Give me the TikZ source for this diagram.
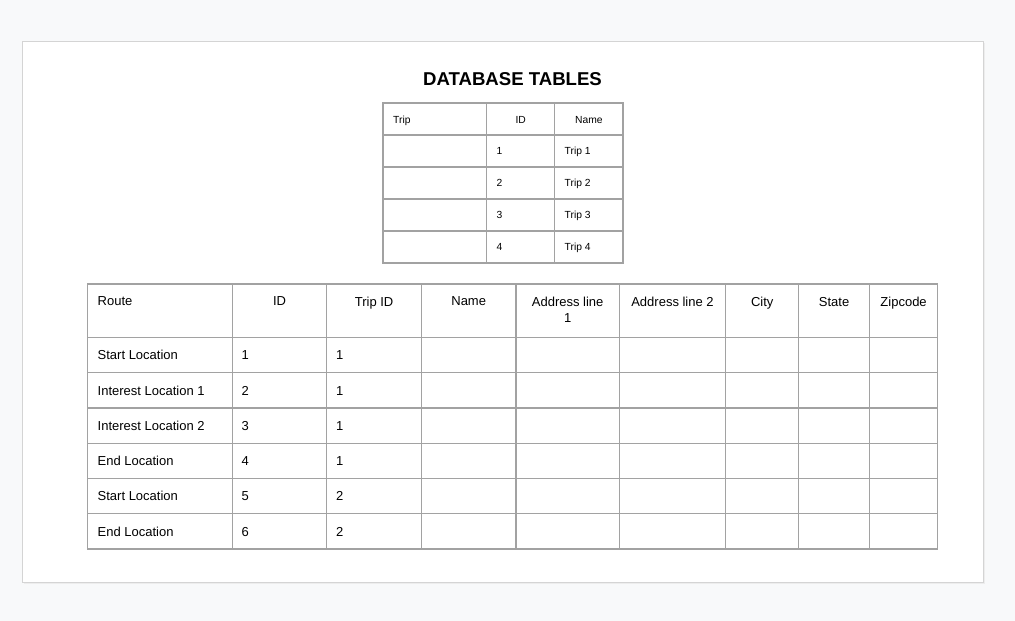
\documentclass[tikz,border=0pt]{standalone}
\usepackage{fontspec}
\setmainfont{Liberation Sans}
\usepackage{xcolor}
\definecolor{pagebg}{HTML}{F8F9FA}
\definecolor{gridline}{HTML}{A2A2A2}
\definecolor{pageline}{HTML}{D4D4D4}

\begin{document}
\begin{tikzpicture}[x = 1pt, y = -1pt,
	title/.style	= {inner sep = 0pt, anchor = base, font = \bfseries\fontsize{18.6}{22}\selectfont},
	small/.style	= {inner sep = 0pt, anchor = base west, font = \fontsize{10.3}{12}\selectfont},
	smallhead/.style	= {small, anchor = base},
	cell/.style	= {inner sep = 0pt, anchor = base west, font = \fontsize{13}{16}\selectfont},
	head/.style	= {cell, anchor = north, align = center},
	grid/.style	= {draw = gridline, line width = 1.1pt}]
\useasboundingbox (0,0) rectangle (1015,621);

% page
\fill[pagebg]	(0,0) rectangle (1015,621);
\fill[black!7]	(23.5,42.5) rectangle (985,584);
\draw[pageline, fill = white]	(22.5,41.5) rectangle (983,582);

\node[title]	(ttl)	at (512.5,85)	{DATABASE TABLES};

% trip table
\draw[grid]	(383,103) rectangle (623,263)
			(486.7,103) -- (486.7,263)
			(554.8,103) -- (554.8,263)
			(383,135) -- (623,135)
			(383,167) -- (623,167)
			(383,199) -- (623,199)
			(383,231) -- (623,231);

\node[small]		(trip)	at (393,123)		{Trip};
\node[smallhead]	(tid)		at (520.7,123)	{ID};
\node[smallhead]	(tname)	at (588.9,123)	{Name};
\node[small]		(tid1)	at (496.5,154.6)	{1};
\node[small]		(tid2)	at (496.5,186.6)	{2};
\node[small]		(tid3)	at (496.5,218.6)	{3};
\node[small]		(tid4)	at (496.5,250.6)	{4};
\node[small]		(tname1)	at (564.5,154.6)	{Trip 1};
\node[small]		(tname2)	at (564.5,186.6)	{Trip 2};
\node[small]		(tname3)	at (564.5,218.6)	{Trip 3};
\node[small]		(tname4)	at (564.5,250.6)	{Trip 4};

% route table
\draw[grid]	(87.5,284) rectangle (937.8,549)
			(232.3,284) -- (232.3,549)
			(326.8,284) -- (326.8,549)
			(421.4,284) -- (421.4,549)
			(516,284) -- (516,549)
			(619.4,284) -- (619.4,549)
			(725.6,284) -- (725.6,549)
			(798.8,284) -- (798.8,549)
			(869.4,284) -- (869.4,549)
			(87.5,337.5) -- (937.8,337.5)
			(87.5,372.75) -- (937.8,372.75)
			(87.5,408) -- (937.8,408)
			(87.5,443.25) -- (937.8,443.25)
			(87.5,478.5) -- (937.8,478.5)
			(87.5,513.75) -- (937.8,513.75);

\node[cell]	(route)	at (97.5,305.7)	{Route};
\node[head]	(rid)		at (279.5,296.8)	{ID};
\node[head]	(rtrip)	at (374.1,296.8)	{Trip ID};
\node[head]	(rname)	at (468.7,296.8)	{Name};
\node[head]	(raddr1)	at (567.7,296.8)	{Address line\\1};
\node[head]	(raddr2)	at (672.5,296.8)	{Address line 2};
\node[head]	(rcity)	at (762.2,296.8)	{City};
\node[head]	(rstate)	at (834.1,296.8)	{State};
\node[head]	(rzip)	at (903.6,296.8)	{Zipcode};

\node[cell]	(r1)		at (97.5,359.8)	{Start Location};
\node[cell]	(r2)		at (97.5,395)	{Interest Location 1};
\node[cell]	(r3)		at (97.5,430.3)	{Interest Location 2};
\node[cell]	(r4)		at (97.5,465.5)	{End Location};
\node[cell]	(r5)		at (97.5,500.8)	{Start Location};
\node[cell]	(r6)		at (97.5,536)	{End Location};
\node[cell]	(r1id)	at (241.5,359.8)	{1};
\node[cell]	(r2id)	at (241.5,395)	{2};
\node[cell]	(r3id)	at (241.5,430.3)	{3};
\node[cell]	(r4id)	at (241.5,465.5)	{4};
\node[cell]	(r5id)	at (241.5,500.8)	{5};
\node[cell]	(r6id)	at (241.5,536)	{6};
\node[cell]	(r1trip)	at (336,359.8)	{1};
\node[cell]	(r2trip)	at (336,395)	{1};
\node[cell]	(r3trip)	at (336,430.3)	{1};
\node[cell]	(r4trip)	at (336,465.5)	{1};
\node[cell]	(r5trip)	at (336,500.8)	{2};
\node[cell]	(r6trip)	at (336,536)	{2};
\end{tikzpicture}
\end{document}
